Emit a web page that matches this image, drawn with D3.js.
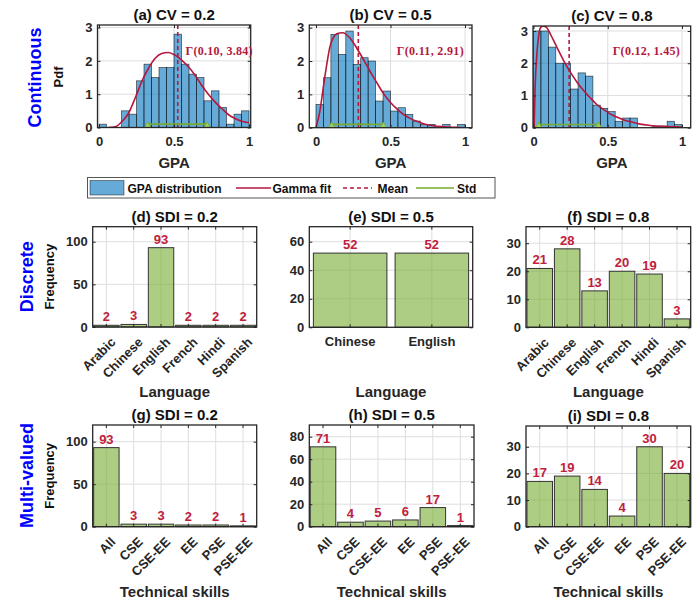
<!DOCTYPE html>
<html><head><meta charset="utf-8">
<script src="https://cdn.jsdelivr.net/npm/d3@7/dist/d3.min.js"></script>
<style>body{margin:0;background:#fff} svg{display:block}</style>
</head><body><svg id="c" width="700" height="602"></svg>
<script>
// ---------------- DATA ----------------
const binStarts = [0,0.05,0.10,0.15,0.20,0.25,0.30,0.35,0.40,0.45,0.50,0.55,0.60,0.65,0.70,0.75,0.80,0.85,0.90,0.95];
const binWidth = 0.05;
const histA = [0.1,0,0,0.5,0.4,1.4,1.9,1.5,1.8,1.8,2.8,1.9,1.6,1.5,0.8,1.1,0.6,0.1,0.4,0.5];
const histB = [0.7,1.5,2.8,2.2,2.9,1.9,2.1,2.0,0.8,1.1,0.5,0.6,0.4,0.2,0.1,0.1,0,0.1,0,0.1];
const histC = [3.0,3.0,2.5,2.0,2.0,1.2,1.7,1.6,0.7,0.6,0.5,0.2,0.3,0.3,0,0,0.05,0.05,0.2,0.1];

const fitA = [[0.06,0],[0.107,0.02],[0.151,0.17],[0.196,0.42],[0.24,0.87],[0.284,1.37],[0.329,1.77],[0.373,2.07],[0.418,2.22],[0.462,2.25],[0.507,2.17],[0.551,2.02],[0.596,1.82],[0.64,1.57],[0.684,1.27],[0.729,1.0],[0.773,0.77],[0.818,0.57],[0.862,0.39],[0.907,0.27],[0.951,0.19],[1.0,0.14]];
const fitB = [[0,0],[0.027,0.52],[0.049,1.21],[0.072,1.89],[0.094,2.44],[0.116,2.70],[0.139,2.82],[0.179,2.85],[0.228,2.69],[0.273,2.39],[0.318,2.05],[0.362,1.70],[0.407,1.36],[0.452,1.03],[0.497,0.77],[0.541,0.57],[0.586,0.40],[0.631,0.28],[0.676,0.19],[0.72,0.12],[0.787,0.06],[0.854,0.03],[0.944,0.01],[1.0,0]];
const fitC = [[0.004,0],[0.011,1.26],[0.023,2.30],[0.034,2.82],[0.045,3.08],[0.065,3.16],[0.09,3.10],[0.112,2.92],[0.157,2.50],[0.202,2.09],[0.247,1.73],[0.292,1.42],[0.336,1.16],[0.381,0.93],[0.426,0.72],[0.471,0.57],[0.516,0.43],[0.561,0.33],[0.605,0.25],[0.65,0.19],[0.718,0.11],[0.785,0.07],[0.874,0.04],[1.0,0.02]];

const meanVals = [0.525, 0.284, 0.24];
const stdRanges = [[0.325,0.72],[0.105,0.452],[0.035,0.437]];
const gammaLabels = ["Γ(0.10, 3.84)","Γ(0.11, 2.91)","Γ(0.12, 1.45)"];
const histTitles = ["(a) CV = 0.2","(b) CV = 0.5","(c) CV = 0.8"];
const histXTicks = [0,0.5,1];
const histYTicks = [0,1,2,3];

const langCats = ["Arabic","Chinese","English","French","Hindi","Spanish"];
const langD = [2,3,93,2,2,2];
const langCatsE = ["Chinese","English"];
const langE = [52,52];
const langF = [21,28,13,20,19,3];

const skillCats = ["All","CSE","CSE-EE","EE","PSE","PSE-EE"];
const skillG = [93,3,3,2,2,1];
const skillH = [71,4,5,6,17,1];
const skillI = [17,19,14,4,30,20];

const ticksD = [0,50,100], ticksE = [0,20,40,60], ticksF = [0,10,20,30];
const ticksG = [0,50,100], ticksH = [0,20,40,60,80], ticksI = [0,10,20,30];

const rowLabels = ["Continuous","Discrete","Multi-valued"];
const legendLabels = ["GPA distribution","Gamma fit","Mean","Std"];

// ---------------- STYLE ----------------
const FONT = "Arial, 'Liberation Sans', Helvetica, sans-serif";
const INK = "#262626";
const GRID = "#dedede";
const RED = "#b5173d";
const GREEN = "#77ac30";
const svg = d3.select("#c");
const defs = svg.append("defs");
let clipId = 0;
const fmt = d3.format("~g");

function setupAxes(g, xs, ys, xv, yv, box, opts) {
  g.append("g").selectAll("line").data(xv).join("line")
    .attr("x1", d => opts.xpos(d)).attr("x2", d => opts.xpos(d))
    .attr("y1", box.y0).attr("y2", box.y1).attr("stroke", GRID).attr("stroke-width", 1);
  g.append("g").selectAll("line").data(yv).join("line")
    .attr("x1", box.x0).attr("x2", box.x1)
    .attr("y1", d => ys(d)).attr("y2", d => ys(d)).attr("stroke", GRID).attr("stroke-width", 1);
}

function finishAxes(g, xs, ys, xv, yv, box, opts) {
  const ax = d3.axisBottom(xs).tickValues(xv).tickSize(-3).tickPadding(9);
  if (opts.xfmt) ax.tickFormat(opts.xfmt);
  const gx = g.append("g").attr("transform", `translate(0,${box.y1})`).call(ax);
  const ay = d3.axisLeft(ys).tickValues(yv).tickSize(-3).tickPadding(5).tickFormat(fmt);
  g.append("g").attr("transform", `translate(${box.x0},0)`).call(ay);
  const at = d3.axisTop(xs).tickValues(xv).tickSize(-3).tickFormat("");
  g.append("g").attr("transform", `translate(0,${box.y0})`).call(at);
  const ar = d3.axisRight(ys).tickValues(yv).tickSize(-3).tickFormat("");
  g.append("g").attr("transform", `translate(${box.x1},0)`).call(ar);
  g.selectAll(".domain").remove();
  g.selectAll(".tick line").attr("stroke", INK).attr("stroke-width", 1);
  g.selectAll(".tick text").attr("fill", INK).attr("font-family", FONT)
    .attr("font-weight", "bold").attr("font-size", 13);
  if (opts.rotate) {
    gx.selectAll(".tick text").attr("text-anchor", "end").attr("dy", null)
      .attr("y", null)
      .attr("transform", "translate(10,16) rotate(-45)");
  }
  g.append("rect").attr("x", box.x0).attr("y", box.y0)
    .attr("width", box.x1 - box.x0).attr("height", box.y1 - box.y0)
    .attr("fill", "none").attr("stroke", INK).attr("stroke-width", 1.3);
  g.append("text").attr("x", (box.x0 + box.x1) / 2).attr("y", box.y0 - 5)
    .attr("text-anchor", "middle").attr("font-family", FONT).attr("font-weight", "bold")
    .attr("font-size", 15).attr("fill", "#111").text(opts.title);
}

function clip(box) {
  const id = "clip" + (clipId++);
  defs.append("clipPath").attr("id", id).append("rect")
    .attr("x", box.x0).attr("y", box.y0).attr("width", box.x1 - box.x0).attr("height", box.y1 - box.y0);
  return `url(#${id})`;
}

// ---------------- HISTOGRAMS ----------------
const histCfg = [
  {p0: 99, p1: 249, box: {x0: 97.5, x1: 250.7, y0: 25, y1: 127.5}, y3: 27.5},
  {p0: 316, p1: 465, box: {x0: 309.3, x1: 472, y0: 25, y1: 127.7}, y3: 27.7},
  {p0: 533.5, p1: 682, box: {x0: 533, x1: 690.7, y0: 26, y1: 127.7}, y3: 31}
];
const hists = [histA, histB, histC];
const fits = [fitA, fitB, fitC];

histCfg.forEach((cfg, i) => {
  const g = svg.append("g");
  const box = cfg.box;
  const x = d3.scaleLinear().domain([0, 1]).range([cfg.p0, cfg.p1]);
  const y = d3.scaleLinear().domain([0, 3]).range([box.y1, cfg.y3]);
  g.append("rect").attr("x", box.x0).attr("y", box.y0).attr("width", box.x1 - box.x0)
    .attr("height", box.y1 - box.y0).attr("fill", "#fff");
  setupAxes(g, x, y, histXTicks, histYTicks.slice(1), box, {xpos: x});
  const inner = g.append("g").attr("clip-path", clip(box));
  inner.selectAll("rect").data(hists[i].map((h, k) => ({s: binStarts[k], h})).filter(d => d.h > 0)).join("rect")
    .attr("x", d => x(d.s)).attr("width", d => x(d.s + binWidth) - x(d.s))
    .attr("y", d => y(d.h)).attr("height", d => y(0) - y(d.h))
    .attr("fill", "#0072BD").attr("fill-opacity", 0.6)
    .attr("stroke", "#000").attr("stroke-opacity", 0.7).attr("stroke-width", 0.7);
  const line = d3.line().x(d => x(d[0])).y(d => y(d[1])).curve(d3.curveMonotoneX);
  inner.append("path").datum(fits[i]).attr("d", line).attr("fill", "none")
    .attr("stroke", RED).attr("stroke-width", 1.6);
  inner.append("line").attr("x1", x(meanVals[i])).attr("x2", x(meanVals[i]))
    .attr("y1", box.y0).attr("y2", box.y1).attr("stroke", RED).attr("stroke-width", 1.6)
    .attr("stroke-dasharray", "4,3");
  const [s0, s1] = stdRanges[i];
  inner.append("path").datum([[s0, 0], [s0, 0.1], [s1, 0.1], [s1, 0]]).attr("d", d3.line().x(d => x(d[0])).y(d => y(d[1])))
    .attr("fill", "none").attr("stroke", GREEN).attr("stroke-width", 1.6);
  inner.selectAll("path.tri").data([s0, s1]).join("path").attr("class", "tri")
    .attr("d", d3.symbol(d3.symbolTriangle, 22))
    .attr("transform", d => `translate(${x(d)},${y(0) - 1.5})`)
    .attr("fill", "#9fcf60").attr("stroke", GREEN).attr("stroke-width", 0.8);
  finishAxes(g, x, y, histXTicks, histYTicks, box, {title: histTitles[i], xfmt: fmt});
  g.append("text").attr("x", [185.5, 396.7, 612.7][i]).attr("y", 55)
    .attr("font-family", "'Liberation Serif','DejaVu Serif',serif").attr("font-weight", "bold")
    .attr("font-size", 12).attr("fill", RED).attr("textLength", 67).attr("lengthAdjust", "spacing")
    .text(gammaLabels[i]);
  g.append("text").attr("x", (box.x0 + box.x1) / 2).attr("y", 168).attr("text-anchor", "middle")
    .attr("font-family", FONT).attr("font-weight", "bold").attr("font-size", 15).attr("fill", INK).text("GPA");
});
svg.append("text").attr("transform", "translate(63,77) rotate(-90)").attr("text-anchor", "middle")
  .attr("font-family", FONT).attr("font-weight", "bold").attr("font-size", 13).attr("fill", "#111").text("Pdf");

// ---------------- LEGEND ----------------
const lg = svg.append("g");
lg.append("rect").attr("x", 87.5).attr("y", 177.5).attr("width", 407.5).attr("height", 20.5)
  .attr("fill", "#fff").attr("stroke", "#555").attr("stroke-width", 1);
lg.append("rect").attr("x", 90).attr("y", 180.5).attr("width", 34).attr("height", 14.5)
  .attr("fill", "#0072BD").attr("fill-opacity", 0.6).attr("stroke", "#000").attr("stroke-opacity", 0.6).attr("stroke-width", 0.7);
lg.append("line").attr("x1", 236).attr("x2", 271).attr("y1", 188).attr("y2", 188).attr("stroke", RED).attr("stroke-width", 1.6);
lg.append("line").attr("x1", 343).attr("x2", 372).attr("y1", 188).attr("y2", 188).attr("stroke", RED).attr("stroke-width", 1.6).attr("stroke-dasharray", "4,3");
lg.append("line").attr("x1", 416).attr("x2", 454).attr("y1", 188).attr("y2", 188).attr("stroke", GREEN).attr("stroke-width", 1.6);
lg.selectAll("text").data(legendLabels).join("text")
  .attr("x", (d, i) => [127.5, 272.5, 377.5, 457][i]).attr("y", 192.5)
  .attr("font-family", FONT).attr("font-weight", "bold").attr("font-size", 12).attr("fill", "#111").text(d => d);

// ---------------- BAR CHARTS ----------------
function drawBars(cfg, cats, vals, ticks, title, rotate) {
  const g = svg.append("g");
  const box = cfg.box;
  const x = d3.scaleBand().domain(cats).range([box.x0, box.x1]).paddingInner(cfg.pad).paddingOuter(cfg.pad / 2);
  const y = d3.scaleLinear().domain([0, cfg.ymax]).range([box.y1, box.y0]);
  const cx = c => x(c) + x.bandwidth() / 2;
  g.append("rect").attr("x", box.x0).attr("y", box.y0).attr("width", box.x1 - box.x0)
    .attr("height", box.y1 - box.y0).attr("fill", "#fff");
  setupAxes(g, x, y, cats, ticks.slice(1), box, {xpos: cx});
  const rows = cats.map((c, k) => ({c, v: vals[k]}));
  g.append("g").selectAll("rect").data(rows).join("rect")
    .attr("x", d => x(d.c)).attr("width", x.bandwidth())
    .attr("y", d => y(d.v)).attr("height", d => y(0) - y(d.v))
    .attr("fill", GREEN).attr("fill-opacity", 0.6).attr("stroke", "#333").attr("stroke-width", 1);
  g.append("g").selectAll("text").data(rows).join("text")
    .attr("x", d => cx(d.c)).attr("y", d => y(d.v) - 4).attr("text-anchor", "middle")
    .attr("font-family", FONT).attr("font-weight", "bold").attr("font-size", 13).attr("fill", "#c0203c")
    .text(d => d.v);
  finishAxes(g, x, y, cats, ticks, box, {title, rotate});
  return g;
}

const boxes = {
  d: {box: {x0: 92.7, x1: 256.7, y0: 226.7, y1: 327}, ymax: 117.6, pad: 0.07},
  e: {box: {x0: 309.3, x1: 472.7, y0: 226.7, y1: 327.3}, ymax: 70.5, pad: 0.1},
  f: {box: {x0: 526, x1: 690.7, y0: 226.7, y1: 327.3}, ymax: 35.9, pad: 0.07},
  g: {box: {x0: 92.7, x1: 256.7, y0: 425, y1: 526.7}, ymax: 119.6, pad: 0.07},
  h: {box: {x0: 309.3, x1: 474, y0: 425, y1: 526.7}, ymax: 90.4, pad: 0.07},
  i: {box: {x0: 526, x1: 690.7, y0: 426, y1: 526.7}, ymax: 37.8, pad: 0.07}
};
drawBars(boxes.d, langCats, langD, ticksD, "(d) SDI = 0.2", true);
drawBars(boxes.e, langCatsE, langE, ticksE, "(e) SDI = 0.5", false);
drawBars(boxes.f, langCats, langF, ticksF, "(f) SDI = 0.8", true);
drawBars(boxes.g, skillCats, skillG, ticksG, "(g) SDI = 0.2", true);
drawBars(boxes.h, skillCats, skillH, ticksH, "(h) SDI = 0.5", true);
drawBars(boxes.i, skillCats, skillI, ticksI, "(i) SDI = 0.8", true);

[["d", "Language", 397], ["e", "Language", 397], ["f", "Language", 397],
 ["g", "Technical skills", 597], ["h", "Technical skills", 597], ["i", "Technical skills", 597]].forEach(([k, t, yy]) => {
  const b = boxes[k].box;
  svg.append("text").attr("x", (b.x0 + b.x1) / 2).attr("y", yy).attr("text-anchor", "middle")
    .attr("font-family", FONT).attr("font-weight", "bold").attr("font-size", 15).attr("fill", INK).text(t);
});
[[54, 276.7], [54, 475.8]].forEach(([xx, yy]) => {
  svg.append("text").attr("transform", `translate(${xx},${yy}) rotate(-90)`).attr("text-anchor", "middle")
    .attr("font-family", FONT).attr("font-weight", "bold").attr("font-size", 13).attr("fill", "#111").text("Frequency");
});

// ---------------- ROW LABELS ----------------
[[40.5, 77.5], [33, 276.7], [33, 475.5]].forEach(([xx, yy], i) => {
  svg.append("text").attr("transform", `translate(${xx},${yy}) rotate(-90)`).attr("text-anchor", "middle")
    .attr("font-family", FONT).attr("font-weight", "bold").attr("font-size", 18).attr("fill", "#0000ff").text(rowLabels[i]);
});
</script></body></html>
